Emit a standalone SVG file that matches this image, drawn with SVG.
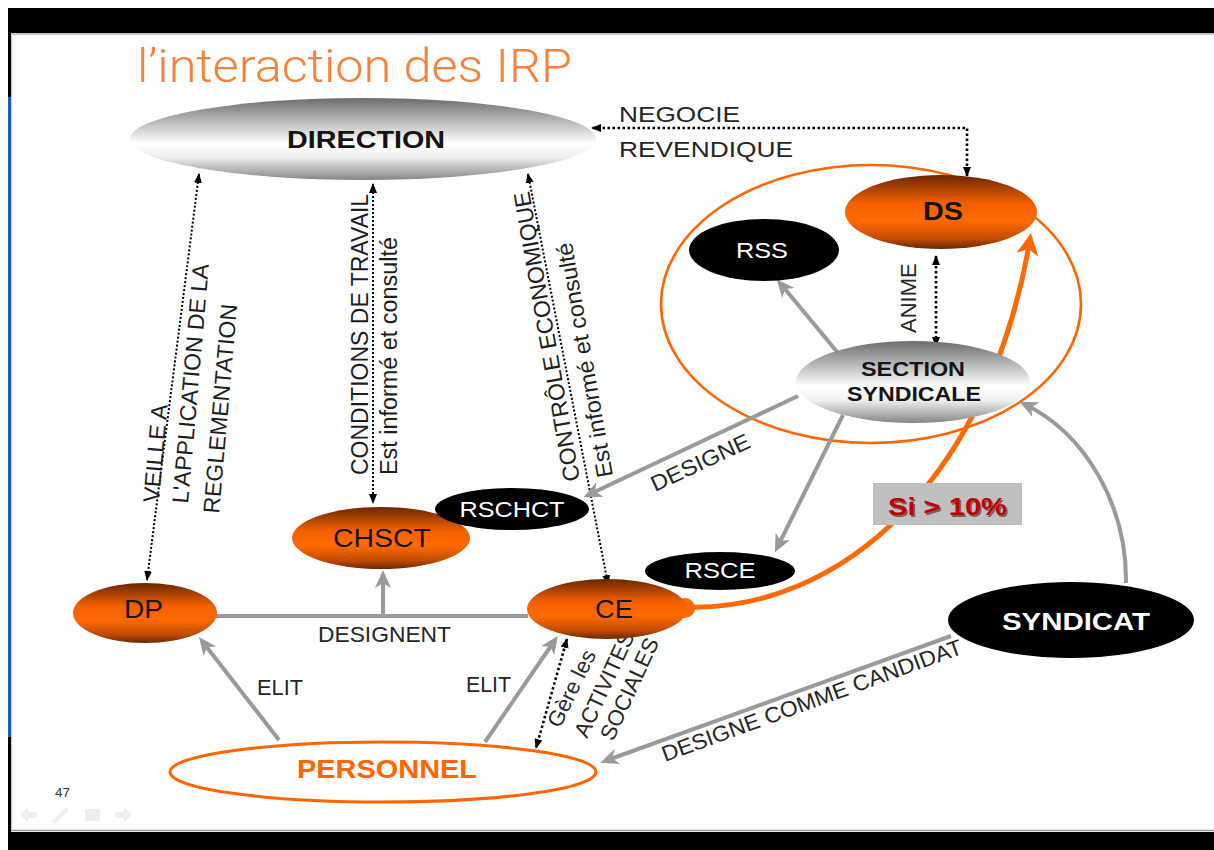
<svg xmlns="http://www.w3.org/2000/svg" width="1214" height="850" viewBox="0 0 1214 850">
<defs>
  <linearGradient id="gOrange" x1="0" y1="0" x2="0" y2="1">
    <stop offset="0" stop-color="#6a2600"/>
    <stop offset="0.38" stop-color="#f26000"/>
    <stop offset="0.62" stop-color="#ff6a00"/>
    <stop offset="0.86" stop-color="#c04c00"/>
    <stop offset="1" stop-color="#6a2600"/>
  </linearGradient>
  <linearGradient id="gGray" x1="0" y1="0" x2="0" y2="1">
    <stop offset="0" stop-color="#6c6c6c"/>
    <stop offset="0.55" stop-color="#ffffff"/>
    <stop offset="0.72" stop-color="#f0f0f0"/>
    <stop offset="1" stop-color="#858585"/>
  </linearGradient>
  <marker id="aBlk" markerUnits="userSpaceOnUse" viewBox="0 0 10 10" markerWidth="10" markerHeight="10" refX="9" refY="5" orient="auto-start-reverse">
    <path d="M0,1 L10,5 L0,9 z" fill="#000"/>
  </marker>
  <marker id="aGry" markerUnits="userSpaceOnUse" viewBox="0 0 18 16" markerWidth="18" markerHeight="16" refX="13" refY="8" orient="auto">
    <path d="M0,0 L18,8 L0,16 L5,8 z" fill="#9a9a9a"/>
  </marker>
  <marker id="aOrg" markerUnits="userSpaceOnUse" viewBox="0 0 22 22" markerWidth="22" markerHeight="22" refX="16" refY="11" orient="auto">
    <path d="M0,0 L22,11 L0,22 L6,11 z" fill="#ff6a00"/>
  </marker>
  <style>
    text { font-family: "Liberation Sans", Arial, sans-serif; }
    .title { font-family: Roboto, "Liberation Sans", Arial, sans-serif; font-weight: 300; }
    .lbl { font-size: 22px; fill: #262626; }
    .vl { font-size: 23px; fill: #1e1e1e; }
    .nt { fill: #141414; text-anchor: middle; }
    .wt { fill: #ffffff; text-anchor: middle; }
    .b { font-weight: bold; }
    .gl { fill: none; stroke: #9a9a9a; stroke-width: 4; }
    .ga { fill: none; stroke: #9a9a9a; stroke-width: 4; marker-end: url(#aGry); }
    .dot { fill: none; stroke: #000; stroke-width: 2; stroke-dasharray: 2 2; marker-start: url(#aBlk); marker-end: url(#aBlk); }
    .dot2 { fill: none; stroke: #000; stroke-width: 2.6; stroke-dasharray: 2.5 2.5; marker-start: url(#aBlk); marker-end: url(#aBlk); }
    .orangeNode { fill: url(#gOrange); }
    .grayNode { fill: url(#gGray); }
    .blackNode { fill: #000; }
    .nav { fill: #eeeeee; }
  </style>
</defs>

<!-- frame -->
<rect x="0" y="0" width="1214" height="850" fill="#ffffff"/>
<rect x="8" y="8" width="1206" height="25" fill="#000"/>
<rect x="8" y="33" width="3" height="64" fill="#000"/>
<rect x="8" y="97" width="3" height="640" fill="#1d5bb8"/>
<rect x="8" y="737" width="3" height="95" fill="#000"/>
<rect x="8" y="832" width="1206" height="18" fill="#000"/>
<line x1="11" y1="34" x2="1214" y2="34" stroke="#b0b0b0" stroke-width="1.5"/>
<line x1="11" y1="830.5" x2="1214" y2="830.5" stroke="#9a9a9a" stroke-width="1.5"/>
<line x1="11.8" y1="34" x2="11.8" y2="830" stroke="#c8c8c8" stroke-width="1.2"/>

<!-- title -->
<text class="title" x="137" y="82" font-size="46" fill="#f4823c" textLength="435" lengthAdjust="spacingAndGlyphs">l’interaction des IRP</text>

<!-- syndicate area outline -->
<g id="zone-syndicale">
  <ellipse cx="871" cy="304" rx="210" ry="139" fill="none" stroke="#ff6600" stroke-width="2.6"/>
</g>

<!-- connectors -->
<g id="connectors">
  <!-- dotted relations -->
  <path class="dot2" d="M967,176 V128 H592"/>
  <path class="dot2" d="M936,256 V346"/>
  <path class="dot" d="M199,174 L147,580"/>
  <path class="dot" d="M373,184 V503"/>
  <path class="dot" d="M528,174 L608,584"/>
  <path class="dot2" d="M567,639 L536,748"/>
  <!-- gray solid -->
  <line class="gl" x1="216" y1="616" x2="528" y2="616"/>
  <path class="ga" d="M383,616 V575"/>
  <path class="ga" d="M279,740 L202,641"/>
  <path class="ga" d="M485,742 L555,640"/>
  <path class="ga" d="M838,353 L780,283"/>
  <path class="ga" d="M798,396 L588,495"/>
  <path class="ga" d="M843,415 L777,548"/>
  <path class="ga" d="M1126,583 C1127,505 1085,433 1024,404"/>
  <path class="ga" d="M951,636 L605,761"/>
  <!-- orange CE -> DS -->
  <path d="M686,607 C840,612 990,480 1030,239" fill="none" stroke="#ff6a00" stroke-width="5" marker-end="url(#aOrg)"/>
  <circle cx="685" cy="608" r="10" fill="#ff6a00"/>

  <!-- connector labels -->
  <text class="lbl" x="619" y="122" textLength="121" lengthAdjust="spacingAndGlyphs">NEGOCIE</text>
  <text class="lbl" x="619" y="157" textLength="174" lengthAdjust="spacingAndGlyphs">REVENDIQUE</text>
  <text class="lbl" transform="translate(916,333) rotate(-90)">ANIME</text>

  <text class="vl" transform="translate(159,503) rotate(-85)">VEILLE A</text>
  <text class="vl" transform="translate(188,504) rotate(-85)">L'APPLICATION DE LA</text>
  <text class="vl" transform="translate(219,514) rotate(-85)">REGLEMENTATION</text>

  <text class="vl" transform="translate(368,475) rotate(-90)">CONDITIONS DE TRAVAIL</text>
  <text class="vl" font-size="21.5" transform="translate(397,475) rotate(-90)" textLength="238" lengthAdjust="spacingAndGlyphs">Est informé et consulté</text>

  <text class="vl" transform="translate(580,480) rotate(-100)">CONTRÔLE ECONOMIQUE</text>
  <text class="vl" font-size="21.5" transform="translate(613,476) rotate(-100)" textLength="238" lengthAdjust="spacingAndGlyphs">Est informé et consulté</text>

  <text class="lbl" font-size="21" x="384.5" y="642" text-anchor="middle" textLength="133" lengthAdjust="spacingAndGlyphs">DESIGNENT</text>
  <text class="lbl" font-size="21" x="257" y="695" textLength="46" lengthAdjust="spacingAndGlyphs">ELIT</text>
  <text class="lbl" font-size="21" x="466" y="692" textLength="45" lengthAdjust="spacingAndGlyphs">ELIT</text>

  <text class="lbl" font-size="21" transform="translate(655,492) rotate(-25)" textLength="107" lengthAdjust="spacingAndGlyphs">DESIGNE</text>
  <text class="lbl" font-size="21" transform="translate(665,762) rotate(-20)" textLength="318" lengthAdjust="spacingAndGlyphs">DESIGNE COMME CANDIDAT</text>

  <text class="lbl" font-size="21" transform="translate(560,729) rotate(-64)">Gère les</text>
  <text class="lbl" font-size="21" transform="translate(587,739) rotate(-65)">ACTIVITES</text>
  <text class="lbl" font-size="21" transform="translate(613,742) rotate(-65)">SOCIALES</text>

  <g id="seuil">
    <rect x="873" y="483" width="149" height="42" fill="#c0c0c0"/>
    <text x="889.5" y="516.5" font-size="24" class="b" fill="#4a0000" fill-opacity="0.55" textLength="119" lengthAdjust="spacingAndGlyphs">Si &gt; 10%</text>
    <text x="888" y="515" font-size="24" class="b" fill="#c00000" textLength="119" lengthAdjust="spacingAndGlyphs">Si &gt; 10%</text>
  </g>
</g>

<!-- nodes -->
<g id="direction">
  <ellipse cx="363" cy="139" rx="233" ry="41" class="grayNode"/>
  <text x="366" y="148" font-size="23" class="nt b" textLength="158" lengthAdjust="spacingAndGlyphs">DIRECTION</text>
</g>
<g id="ds">
  <ellipse cx="941" cy="212" rx="96" ry="37" class="orangeNode"/>
  <text x="943" y="220" font-size="25" class="nt b" textLength="40" lengthAdjust="spacingAndGlyphs">DS</text>
</g>
<g id="rss">
  <ellipse cx="764" cy="250" rx="75" ry="31" class="blackNode"/>
  <text x="762" y="258" font-size="22" class="wt" textLength="52" lengthAdjust="spacingAndGlyphs">RSS</text>
</g>
<g id="section-syndicale">
  <ellipse cx="913" cy="382" rx="117" ry="41" class="grayNode"/>
  <text x="913" y="376" font-size="20" class="nt b" textLength="104" lengthAdjust="spacingAndGlyphs">SECTION</text>
  <text x="914" y="401" font-size="20" class="nt b" textLength="134" lengthAdjust="spacingAndGlyphs">SYNDICALE</text>
</g>
<g id="dp">
  <ellipse cx="145" cy="613" rx="72" ry="30" class="orangeNode"/>
  <text x="143.5" y="618" font-size="25" class="nt" textLength="39" lengthAdjust="spacingAndGlyphs">DP</text>
</g>
<g id="chsct">
  <ellipse cx="381" cy="538" rx="89" ry="31" class="orangeNode"/>
  <text x="382" y="547" font-size="26" class="nt" textLength="98" lengthAdjust="spacingAndGlyphs">CHSCT</text>
</g>
<g id="rschct">
  <ellipse cx="512" cy="509" rx="77" ry="21" class="blackNode"/>
  <text x="512" y="517" font-size="22" class="wt" textLength="105" lengthAdjust="spacingAndGlyphs">RSCHCT</text>
</g>
<g id="ce">
  <ellipse cx="607" cy="609" rx="80" ry="30" class="orangeNode"/>
  <text x="614" y="618" font-size="25" class="nt" textLength="38" lengthAdjust="spacingAndGlyphs">CE</text>
</g>
<g id="rsce">
  <ellipse cx="720" cy="571" rx="75" ry="19" class="blackNode"/>
  <text x="720" y="578" font-size="22" class="wt" textLength="71" lengthAdjust="spacingAndGlyphs">RSCE</text>
</g>
<g id="syndicat">
  <ellipse cx="1071" cy="620" rx="123" ry="38" class="blackNode"/>
  <text x="1076" y="630" font-size="24" class="wt b" textLength="148" lengthAdjust="spacingAndGlyphs">SYNDICAT</text>
</g>
<g id="personnel">
  <ellipse cx="383" cy="772" rx="213" ry="30" fill="#ffffff" stroke="#ff6600" stroke-width="3"/>
  <text x="387" y="778" font-size="25" class="b" fill="#ff6600" text-anchor="middle" textLength="180" lengthAdjust="spacingAndGlyphs">PERSONNEL</text>
</g>

<!-- slide footer -->
<text x="55" y="797" font-size="12" fill="#333" textLength="15" lengthAdjust="spacingAndGlyphs">47</text>
<g id="nav">
  <path class="nav" d="M20,815 L28,808 L28,812 L37,812 L37,818 L28,818 L28,822 z"/>
  <path class="nav" d="M52,821 L66,807 L69,810 L55,824 z"/>
  <rect class="nav" x="85" y="809" width="15" height="12"/>
  <path class="nav" d="M132,815 L124,808 L124,812 L115,812 L115,818 L124,818 L124,822 z"/>
</g>
</svg>
